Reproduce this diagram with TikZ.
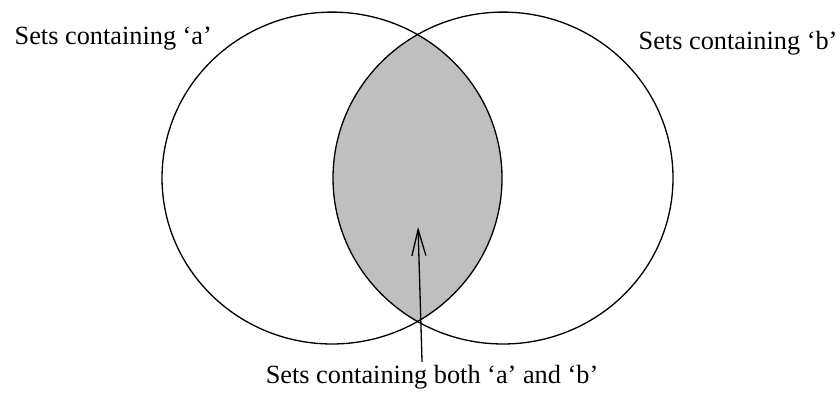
\documentclass[tikz,border=0pt,12pt]{standalone}
\usepackage{fontspec}
\setmainfont{Liberation Serif}
\usepackage{xcolor}
\usepackage{tikz}
\usetikzlibrary{shapes,arrows.meta,positioning,calc}

\definecolor{lensgray}{gray}{0.75}

\begin{document}
\begin{tikzpicture}[line width=0.6pt,
  setshape/.style={draw, ellipse, minimum width=5.45cm, minimum height=5.32cm, inner sep=0pt},
  setlabel/.style={inner sep=0pt, anchor=base west}]
\useasboundingbox (0,0) rectangle (13.465,6.284);

% Centres of the two sets
\coordinate (ca) at (5.322,3.430);
\coordinate (cb) at (8.063,3.430);

% Intersection
\begin{scope}
\clip (ca) ellipse (2.725cm and 2.661cm);
\fill[lensgray] (cb) ellipse (2.725cm and 2.661cm);
\end{scope}

% Sets
\node[setshape] (seta) at (ca) {};
\node[setshape] (setb) at (cb) {};

% Labels
\node[setlabel] (laba) at (0.224,5.578) {Sets containing `a'};
\node[setlabel] (labb) at (10.227,5.498) {Sets containing `b'};
\node[inner sep=1pt, anchor=base] (both) at (6.925,0.144) {Sets containing both `a' and `b'};

% Pointer into the intersection
\coordinate (tip) at (6.701,2.645);
\draw[-{Straight Barb[length=4.2mm,width=2.2mm,angle'=30]}] ([xshift=-1.6mm]both.north) -- (tip);

\end{tikzpicture}
\end{document}
